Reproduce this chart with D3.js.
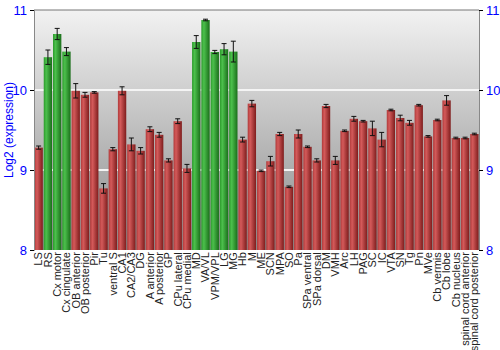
<!DOCTYPE html>
<html>
<head>
<meta charset="utf-8">
<script src="https://cdn.jsdelivr.net/npm/d3@7"></script>
<style>
  body { margin: 0; background: #fff; }
  text { font-family: "Liberation Sans", Arial, sans-serif; }
</style>
</head>
<body>
<div id="chart"></div>
<script>
// Regions, expression means and error half-widths (log2)
var regions = ['LS', 'RS', 'Cx motor', 'Cx cingulate', 'OB anterior', 'OB posterior', 'Pir', 'Tu',
  'ventral S', 'CA1', 'CA2/CA3', 'DG', 'A anterior', 'A posterior', 'GP', 'CPu lateral', 'CPu medial',
  'MD', 'VA/VL', 'VPM/VPL', 'LG', 'MG', 'Hb', 'M', 'ME', 'SCN', 'MPA', 'SO', 'Pa', 'SPa ventral',
  'SPa dorsal', 'DM', 'VMH', 'Arc', 'LH', 'PAG', 'SC', 'IC', 'VTA', 'SN', 'Tg', 'Pn', 'MVe',
  'Cb vermis', 'Cb lobe', 'Cb nucleus', 'spinal cord anterior', 'spinal cord posterior'];
var values = [9.28, 10.41, 10.70, 10.48, 9.99, 9.94, 9.97, 8.77,
  9.26, 9.99, 9.32, 9.24, 9.51, 9.44, 9.12, 9.61, 9.02,
  10.60, 10.875, 10.475, 10.51, 10.48, 9.38, 9.83, 8.99, 9.11, 9.45, 8.79, 9.45, 9.29,
  9.12, 9.80, 9.12, 9.49, 9.64, 9.61, 9.52, 9.38, 9.75, 9.65, 9.59, 9.81, 9.42,
  9.625, 9.87, 9.40, 9.40, 9.45];
var errors = [0.02, 0.09, 0.07, 0.05, 0.09, 0.03, 0.01, 0.06,
  0.02, 0.05, 0.08, 0.04, 0.03, 0.03, 0.02, 0.03, 0.05,
  0.08, 0.01, 0.02, 0.07, 0.13, 0.03, 0.04, 0.01, 0.06, 0.02, 0.01, 0.05, 0.01,
  0.02, 0.02, 0.05, 0.01, 0.03, 0.01, 0.09, 0.09, 0.01, 0.035, 0.03, 0.01, 0.01,
  0.01, 0.06, 0.01, 0.01, 0.01];
var highlighted = ['RS', 'Cx motor', 'Cx cingulate', 'MD', 'VA/VL', 'VPM/VPL', 'LG', 'MG'];
var yTicks = [8, 9, 10, 11];

var margin = {top: 10, right: 21, bottom: 100, left: 34},
    width = 500 - margin.left - margin.right,
    height = 350 - margin.top - margin.bottom;

var svg = d3.select('#chart').append('svg')
    .attr('width', 500)
    .attr('height', 350);

var defs = svg.append('defs');

var bg = defs.append('linearGradient').attr('id', 'bg')
    .attr('x1', 0).attr('y1', 0).attr('x2', 0).attr('y2', 1);
bg.append('stop').attr('offset', '0%').attr('stop-color', '#f2f2f2');
bg.append('stop').attr('offset', '100%').attr('stop-color', '#8a8a8a');

function barGrad(id, c0, c1, c2) {
  var g = defs.append('linearGradient').attr('id', id)
      .attr('x1', 0).attr('y1', 0).attr('x2', 1).attr('y2', 0);
  g.append('stop').attr('offset', '0%').attr('stop-color', c0);
  g.append('stop').attr('offset', '30%').attr('stop-color', c1);
  g.append('stop').attr('offset', '100%').attr('stop-color', c2);
}
barGrad('red', '#b03a3a', '#d45a5a', '#7e1c1c');
barGrad('green', '#2c9a2c', '#4cc04c', '#1a6e1a');

var g = svg.append('g')
    .attr('transform', 'translate(' + margin.left + ',' + margin.top + ')');

var x = d3.scaleBand().domain(regions).range([0, width]).paddingInner(0.1).paddingOuter(0.05);
var y = d3.scaleLinear().domain([8, 11]).range([height, 0]);

g.append('rect')
    .attr('width', width)
    .attr('height', height)
    .attr('fill', 'url(#bg)');

// grid lines
g.selectAll('.grid')
    .data([9, 10])
  .enter().append('line')
    .attr('x1', 0).attr('x2', width)
    .attr('y1', function(d) { return y(d); })
    .attr('y2', function(d) { return y(d); })
    .attr('stroke', '#f4f4f4')
    .attr('stroke-width', 2);

var data = regions.map(function(r, i) { return {name: r, value: values[i], err: errors[i]}; });

g.selectAll('.bar')
    .data(data)
  .enter().append('rect')
    .attr('x', function(d) { return x(d.name); })
    .attr('y', function(d) { return y(d.value); })
    .attr('width', x.bandwidth())
    .attr('height', function(d) { return height - y(d.value); })
    .attr('fill', function(d) { return highlighted.indexOf(d.name) >= 0 ? 'url(#green)' : 'url(#red)'; });

// error bars
var eb = g.selectAll('.err')
    .data(data)
  .enter().append('g')
    .attr('transform', function(d) { return 'translate(' + (x(d.name) + x.bandwidth() / 2) + ',0)'; })
    .attr('stroke', '#111')
    .attr('stroke-width', 1);
eb.append('line')
    .attr('y1', function(d) { return y(d.value + d.err); })
    .attr('y2', function(d) { return y(d.value - d.err); });
eb.append('line')
    .attr('x1', -2.5).attr('x2', 2.5)
    .attr('y1', function(d) { return y(d.value + d.err); })
    .attr('y2', function(d) { return y(d.value + d.err); });
eb.append('line')
    .attr('x1', -2.5).attr('x2', 2.5)
    .attr('y1', function(d) { return y(d.value - d.err); })
    .attr('y2', function(d) { return y(d.value - d.err); });

// frame
g.append('line').attr('x1', 0).attr('x2', width).attr('y1', 0).attr('y2', 0)
    .attr('stroke', '#777').attr('stroke-width', 1);

var yLeft = g.append('g').call(d3.axisLeft(y).tickValues(yTicks).tickFormat(d3.format('d')).tickSize(4));
var yRight = g.append('g').attr('transform', 'translate(' + width + ',0)')
    .call(d3.axisRight(y).tickValues(yTicks).tickFormat(d3.format('d')).tickSize(4));
[yLeft, yRight].forEach(function(a) {
  a.select('.domain').attr('stroke', '#888');
  a.selectAll('.tick line').attr('stroke', '#000');
  a.selectAll('.tick text').attr('fill', '#0000ff').style('font-size', '13px')
      .style('font-family', '"Liberation Sans", Arial, sans-serif');
});

// x labels
var xAxis = g.append('g')
    .attr('transform', 'translate(0,' + height + ')')
    .call(d3.axisBottom(x).tickSize(0));
xAxis.select('.domain').remove();
xAxis.selectAll('text')
    .style('text-anchor', 'end')
    .style('font-size', '11px')
    .style('font-family', '"Liberation Sans", Arial, sans-serif')
    .attr('fill', '#222')
    .attr('dx', '-0.2em')
    .attr('dy', '0.35em')
    .attr('y', 0)
    .attr('x', 0)
    .attr('transform', 'rotate(-90)');

svg.append('text')
    .attr('transform', 'translate(13,' + (margin.top + height / 2) + ') rotate(-90)')
    .attr('text-anchor', 'middle')
    .attr('fill', '#0000ff')
    .style('font-size', '12px')
    .text('Log2 (expression)');
</script>
</body>
</html>
